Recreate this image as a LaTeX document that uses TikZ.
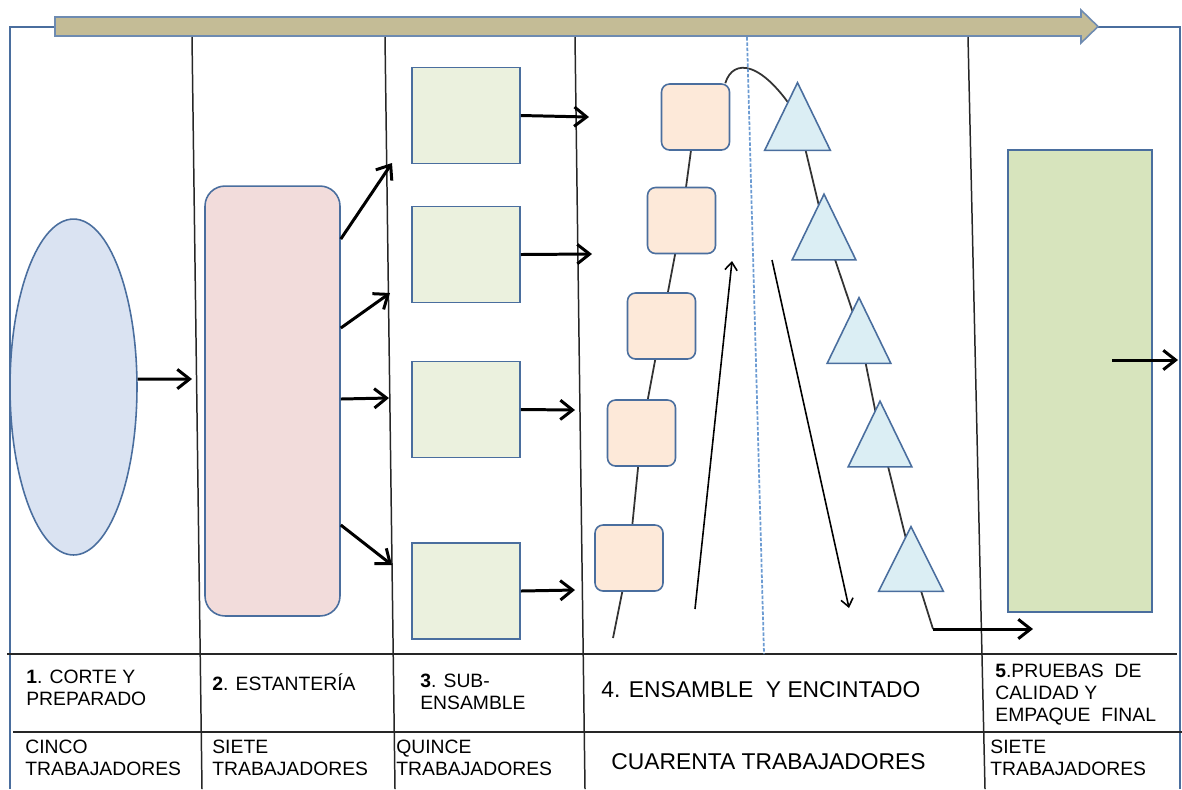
\documentclass[tikz,border=0pt]{standalone}
\usepackage{fontspec}
\setmainfont{Liberation Sans}
\usetikzlibrary{shapes.geometric,arrows.meta,backgrounds}
\definecolor{bordc}{HTML}{4A6E9E}
\definecolor{ellc}{HTML}{DAE3F2}
\definecolor{pinkc}{HTML}{F2DCDB}
\definecolor{greenc}{HTML}{EBF1DE}
\definecolor{peachc}{HTML}{FDE9D9}
\definecolor{tric}{HTML}{DBEEF4}
\definecolor{finalc}{HTML}{D7E4BD}
\definecolor{tanc}{HTML}{C4BC96}
\definecolor{dotc}{HTML}{6C9BD2}
\tikzset{
  shp/.style={draw=bordc, line width=0.9pt, inner sep=0},
  flow/.style={line width=1.7pt, -{Straight Barb[length=7pt,width=11pt]}},
  thinflow/.style={line width=0.9pt, -{Straight Barb[length=4.5pt,width=7pt]}},
  divider/.style={line width=0.85pt, draw=black!85},
  link/.style={line width=1pt, draw=black!80},
  frame/.style={line width=0.9pt, draw=bordc},
  lbl/.style={font=\fontsize{11}{12.5}\selectfont, inner sep=0, anchor=west, align=left},
  biglbl/.style={font=\fontsize{13}{15}\selectfont, inner sep=0, anchor=west, align=left},
  trinode/.style={inner sep=0, minimum width=1.26cm, minimum height=1.3cm},
  tri/.style={draw=bordc, line width=0.9pt, fill=tric, line join=miter},
}
\begin{document}
\begin{tikzpicture}[x=0.02cm, y=-0.02cm]
\useasboundingbox (0,0) rectangle (1182,789);

% outer frame
\draw[frame] (55,27) -- (10,27) -- (10,789);
\draw[frame] (1096,27) -- (1180,27) -- (1180,789);

% top arrow
\draw[draw=bordc!80, line width=0.9pt, fill=tanc] (55,17) -- (1081,17) -- (1081,10) -- (1098,26.5) -- (1081,43) -- (1081,36) -- (55,36) -- cycle;

% dividers
\draw[divider] (192,37) -- (202,789);
\draw[divider] (385,37) -- (395,789);
\draw[divider] (575,37) -- (585,789);
\draw[divider] (968,37) -- (985,789);
\draw[divider] (7,654) -- (1177,654);
\draw[divider] (13,732) -- (1182,732);
\draw[dotc, line width=1pt, dash pattern=on 2pt off 1pt] (747,37) -- (764,654);

% stage 1
\node[shp, ellipse, fill=ellc, minimum width=2.54cm, minimum height=6.72cm] (ell) at (73.5,387) {};
% stage 2
\node[shp, fill=pinkc, rounded corners=0.4cm, minimum width=2.7cm, minimum height=8.6cm] (pink) at (272.5,401) {};
% stage 3
\node[shp, fill=greenc, minimum width=2.16cm, minimum height=1.92cm] (g1) at (466,115.5) {};
\node[shp, fill=greenc, minimum width=2.16cm, minimum height=1.92cm] (g2) at (466,254.5) {};
\node[shp, fill=greenc, minimum width=2.16cm, minimum height=1.92cm] (g3) at (466,409.5) {};
\node[shp, fill=greenc, minimum width=2.16cm, minimum height=1.92cm] (g4) at (466,591) {};
% stage 4 squares
\node[shp, fill=peachc, rounded corners=0.16cm, minimum width=1.36cm, minimum height=1.32cm] (s1) at (695.5,117) {};
\node[shp, fill=peachc, rounded corners=0.16cm, minimum width=1.36cm, minimum height=1.32cm] (s2) at (681.5,220.5) {};
\node[shp, fill=peachc, rounded corners=0.16cm, minimum width=1.36cm, minimum height=1.32cm] (s3) at (661.5,326) {};
\node[shp, fill=peachc, rounded corners=0.16cm, minimum width=1.36cm, minimum height=1.32cm] (s4) at (641.5,433) {};
\node[shp, fill=peachc, rounded corners=0.16cm, minimum width=1.36cm, minimum height=1.32cm] (s5) at (629,558) {};
% stage 4 triangles (frames)
\node[trinode, minimum width=1.3cm, minimum height=1.34cm] (t1) at (797.5,116.5) {};
\node[trinode] (t2) at (824,227) {};
\node[trinode] (t3) at (859,330.5) {};
\node[trinode] (t4) at (880,434) {};
\node[trinode, minimum width=1.28cm, minimum height=1.28cm] (t5) at (911,559) {};
\foreach \t in {t1,t2,t3,t4,t5}
  \draw[tri] (\t.south west) -- (\t.north) -- (\t.south east) -- cycle;
% stage 5
\node[shp, fill=finalc, minimum width=2.88cm, minimum height=9.24cm] (fin) at (1080,381) {};

% free ends
\coordinate (e1) at (192,379);
\coordinate (p1) at (392,163);
\coordinate (p2) at (390,293);
\coordinate (p3) at (389,398);
\coordinate (p4) at (392,565);
\coordinate (q1) at (589,117);
\coordinate (q2) at (592,254);
\coordinate (q3) at (575,410);
\coordinate (q4) at (575,590);
\coordinate (sq0) at (613,638);
\coordinate (up0) at (695,609);
\coordinate (up1) at (732,261);
\coordinate (dn0) at (772,260);
\coordinate (dn1) at (849,608);
\coordinate (tc) at (933,629);
\coordinate (tz) at (1033,629);
\coordinate (f0) at (1112,360);
\coordinate (f1) at (1178,360);

\begin{scope}[on background layer]
  \draw[link] (sq0) -- (s5.center) -- (s4.center) -- (s3.center) -- (s2.center) -- (s1.center);
  \draw[link] ([xshift=-0.1cm]s1.north east) .. controls (733,58) and (762,60) .. (t1.center);
  \draw[link] (t1.center) -- (t2.center) -- (t3.center) -- (t4.center) -- (t5.center) -- (tc);
\end{scope}

% arrows
\draw[flow] (ell.7) -- (e1);
\draw[flow] ([yshift=3.24cm]pink.east) -- (p1);
\draw[flow] ([yshift=1.46cm]pink.east) -- (p2);
\draw[flow] ([yshift=0.04cm]pink.east) -- (p3);
\draw[flow] ([yshift=-2.48cm]pink.east) -- (p4);
\draw[flow] (g1.east) -- (q1);
\draw[flow] (g2.east) -- (q2);
\draw[flow] (g3.east) -- (q3);
\draw[flow] (g4.east) -- (q4);
\draw[thinflow] (up0) -- (up1);
\draw[thinflow] (dn0) -- (dn1);
\draw[flow] (tc) -- (tz);
\draw[flow] (f0) -- (f1);

% labels
\node[lbl] (l1) at (26,688) {\textbf{1}. CORTE Y\\PREPARADO};
\node[lbl] (l2) at (212,682) {\textbf{2}. ESTANTERÍA};
\node[lbl] (l3) at (420,692) {\textbf{3}. SUB-\\ENSAMBLE};
\node[biglbl] (l4) at (601,690) {4. ENSAMBLE\ \ Y ENCINTADO};
\node[lbl] (l5) at (995,694.5) {\textbf{5}.PRUEBAS\ \ DE\\CALIDAD Y\\EMPAQUE\ \ FINAL};
\node[lbl] (w1) at (25,757.5) {CINCO\\TRABAJADORES};
\node[lbl] (w2) at (212,757.5) {SIETE\\TRABAJADORES};
\node[lbl] (w3) at (396,757.5) {QUINCE\\TRABAJADORES};
\node[biglbl] (w4) at (611,762) {CUARENTA TRABAJADORES};
\node[lbl] (w5) at (990,757.5) {SIETE\\TRABAJADORES};
\end{tikzpicture}
\end{document}
